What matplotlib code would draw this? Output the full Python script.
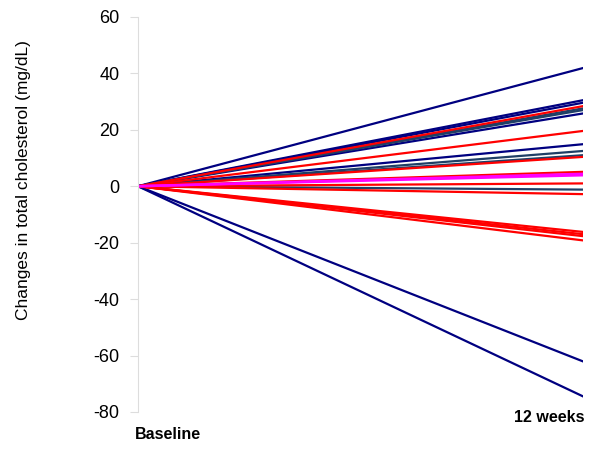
import matplotlib
matplotlib.use("Agg")
import matplotlib.pyplot as plt

plt.rcParams['font.family'] = ['Liberation Sans', 'DejaVu Sans']
plt.rcParams['axes.unicode_minus'] = False

# change at 12 weeks for each subject (baseline = 0)
navy_vals = [41.9, 30.5, 29.6, 25.8, 14.9, -62.1, -74.5]
teal_vals = [27.6, 27.0, 12.5, 11.0, -1.2]
red_vals = [28.4, 19.6, 10.4, 5.1, 1.0, -2.8, -16.2, -17.0, -17.7, -19.2]
magenta_vals = [3.9, 4.4]
time_labels = ['Baseline', '12 weeks']

fig = plt.figure(figsize=(6, 4.51), dpi=100)
ax = fig.add_axes([0.23, 0.0865, 0.742, 0.876])

for v in navy_vals:
    ax.plot([0, 1], [0, v], color='#000080', lw=1.6)
for v in teal_vals:
    ax.plot([0, 1], [0, v], color='#1F3F66', lw=1.6)
for v in red_vals:
    ax.plot([0, 1], [0, v], color='#FF0000', lw=1.6)
for v in magenta_vals:
    ax.plot([0, 1], [0, v], color='#FF00FF', lw=1.8)

ax.set_xlim(0, 1)
ax.set_ylim(-80, 60)
ax.set_yticks(range(-80, 61, 20))
ax.tick_params(axis='y', direction='out', length=5.8, color='#DDDDDD', labelsize=13, pad=7.5)
ax.set_xticks([])
for s in ['top', 'right', 'bottom']:
    ax.spines[s].set_visible(False)
ax.spines['left'].set_color('#DDDDDD')
fig.text(24 / 600, 1 - 180 / 451, 'Changes in total cholesterol (mg/dL)', rotation=90,
         ha='center', va='center', fontsize=12.5)

ax.text(0.0663, -88.15, time_labels[0], ha='center', va='center', fontsize=11.5, fontweight='bold')
ax.text(1.002, -81.8, time_labels[1], ha='right', va='center', fontsize=11.5, fontweight='bold')

fig.savefig('out.png', dpi=100)
